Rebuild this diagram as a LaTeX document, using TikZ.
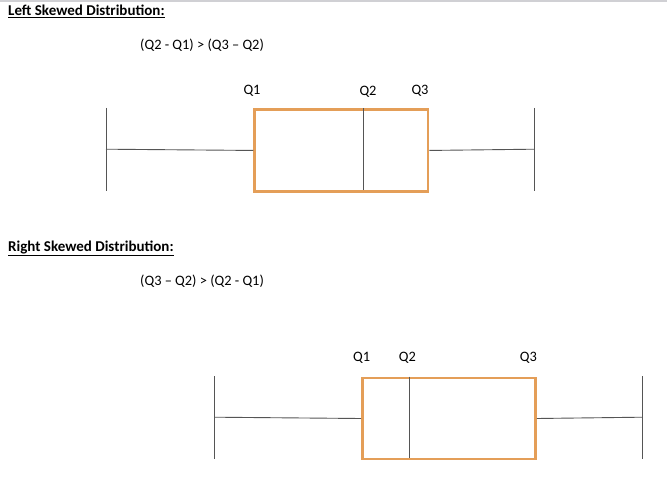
\documentclass[tikz,border=0pt]{standalone}
\usepackage{fontspec}
\setmainfont{Carlito}
\definecolor{boxorange}{RGB}{228,158,88}
\definecolor{linegrey}{RGB}{85,85,85}
\definecolor{topband}{RGB}{208,208,212}
\begin{document}
\begin{tikzpicture}[x=1pt,y=-1pt,
  title/.style={font=\fontsize{15}{17}\selectfont\bfseries, anchor=base west, inner sep=0pt},
  formula/.style={font=\fontsize{14.4}{16}\selectfont, anchor=base west, inner sep=0pt},
  qlabel/.style={font=\fontsize{14.4}{16}\selectfont, inner sep=0pt},
  iqr/.style={draw=boxorange, line width=2.6pt},
  thin/.style={draw=linegrey, line width=0.9pt}]
\useasboundingbox[fill=white] (0,0) rectangle (667,492);
\fill[topband] (0,0) rectangle (667,2.2);
% ---------- Left skewed ----------
\node[title] (t1) at (8,16) {\underline{Left Skewed Distribution:}};
\node[formula] (f1) at (140,50) {(Q2 - Q1) > (Q3 – Q2)};
\node[qlabel] (q1a) at (252,91) {Q1};
\node[qlabel] (q2a) at (368,92) {Q2};
\node[qlabel] (q3a) at (420,91) {Q3};
\node[iqr, minimum width=173.4pt, minimum height=81.7pt, inner sep=0pt, anchor=north west] (boxa) at (253.3,108.3) {};
\coordinate (meda1) at (363.3,108.3);
\coordinate (meda2) at (363.3,190);
\draw[thin] (meda1) -- (meda2);
\coordinate (wla1) at (106,108);
\coordinate (wla2) at (106,191);
\coordinate (wlam) at (106,149.2);
\coordinate (wra1) at (534.3,108);
\coordinate (wra2) at (534.3,191);
\coordinate (wram) at (534.3,149.2);
\draw[thin] (wla1) -- (wla2);
\draw[thin] (wra1) -- (wra2);
\draw[thin] (wlam) -- (boxa.west);
\draw[thin] (boxa.east) -- (wram);
% ---------- Right skewed ----------
\node[title] (t2) at (8,251) {\underline{Right Skewed Distribution:}};
\node[formula] (f2) at (140,285) {(Q3 – Q2) > (Q2 - Q1)};
\node[qlabel] (q1b) at (361.7,358) {Q1};
\node[qlabel] (q2b) at (407.3,358) {Q2};
\node[qlabel] (q3b) at (528.3,358) {Q3};
\node[iqr, minimum width=173.3pt, minimum height=81pt, inner sep=0pt, anchor=north west] (boxb) at (361,376.7) {};
\coordinate (medb1) at (409,376.7);
\coordinate (medb2) at (409,457.7);
\draw[thin] (medb1) -- (medb2);
\coordinate (wlb1) at (214.3,376);
\coordinate (wlb2) at (214.3,459);
\coordinate (wlbm) at (214.3,417.2);
\coordinate (wrb1) at (642.3,376);
\coordinate (wrb2) at (642.3,459);
\coordinate (wrbm) at (642.3,417.2);
\draw[thin] (wlb1) -- (wlb2);
\draw[thin] (wrb1) -- (wrb2);
\draw[thin] (wlbm) -- (boxb.west);
\draw[thin] (boxb.east) -- (wrbm);
\end{tikzpicture}
\end{document}
